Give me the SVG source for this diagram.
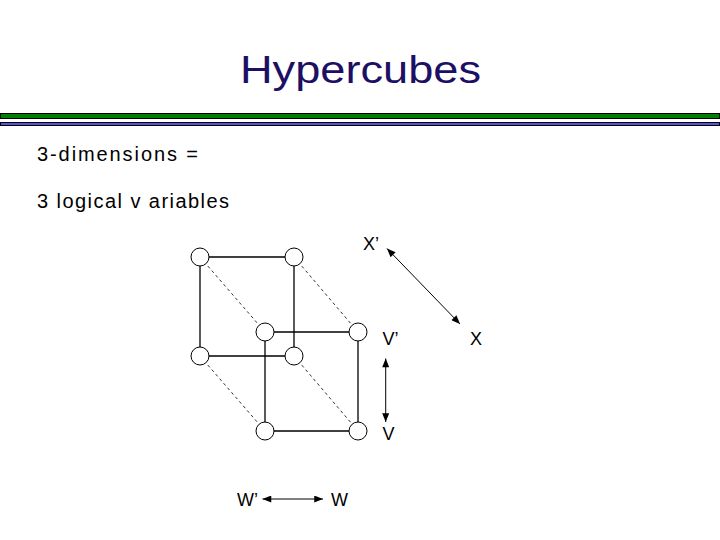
<svg xmlns="http://www.w3.org/2000/svg" width="720" height="540" viewBox="0 0 720 540">
<style>
.t{font-family:"Liberation Sans",Arial,sans-serif;font-size:18px;fill:#000}
.b{font-family:"Liberation Sans",Arial,sans-serif;font-size:20px;fill:#000}
.title{font-family:"Liberation Sans",Arial,sans-serif;font-size:38px;fill:#1d0f63}
.node{fill:#fff;stroke:#000;stroke-width:1}
.edge{stroke:#000;stroke-width:1.3;fill:none}
.dash{stroke:#000;stroke-width:0.8;stroke-dasharray:3,3;fill:none}
.arr{stroke:#000;stroke-width:1;fill:none;marker-start:url(#ah);marker-end:url(#ah)}
</style>
<defs>
<marker id="ah" viewBox="0 0 10 8" refX="10" refY="4" markerWidth="10" markerHeight="7" markerUnits="userSpaceOnUse" orient="auto-start-reverse">
<path d="M0,0 L10,4 L0,8 z" fill="#000"/>
</marker>
</defs>
<rect width="720" height="540" fill="#fff"/>
<text class="title" x="240" y="83" textLength="241" lengthAdjust="spacingAndGlyphs">Hypercubes</text>
<rect x="0.5" y="113.5" width="719" height="5" fill="#008000" stroke="#000" stroke-width="1"/>
<rect x="0.5" y="122.5" width="719" height="3" fill="#5b4fdc" stroke="#000" stroke-width="1"/>
<text class="b" x="37" y="160.5" textLength="161">3-dimensions =</text>
<text class="b" x="37" y="208" textLength="192">3 logical v ariables</text>
<g id="connectors">
<line class="edge" x1="200" y1="257" x2="294" y2="257"/>
<line class="edge" x1="200" y1="257" x2="200" y2="356"/>
<line class="edge" x1="294" y1="257" x2="294" y2="356"/>
<line class="edge" x1="200" y1="356" x2="294" y2="356"/>
<line class="edge" x1="265" y1="332" x2="358" y2="332"/>
<line class="edge" x1="265" y1="332" x2="265" y2="431"/>
<line class="edge" x1="358" y1="332" x2="358" y2="431"/>
<line class="edge" x1="265" y1="431" x2="358" y2="431"/>
<line class="dash" x1="200" y1="257" x2="265" y2="332"/>
<line class="dash" x1="294" y1="257" x2="358" y2="332"/>
<line class="dash" x1="200" y1="356" x2="265" y2="431"/>
<line class="dash" x1="294" y1="356" x2="358" y2="431"/>
<line class="arr" x1="387" y1="248.5" x2="460" y2="324"/>
<line class="arr" x1="385.7" y1="358.5" x2="385.7" y2="422"/>
<line class="arr" x1="262.5" y1="499" x2="323" y2="499"/>
</g>
<g id="n1"><circle class="node" cx="200" cy="257" r="9"/></g>
<g id="n2"><circle class="node" cx="294" cy="257" r="9"/></g>
<g id="n3"><circle class="node" cx="200" cy="356" r="9"/></g>
<g id="n4"><circle class="node" cx="294" cy="356" r="9"/></g>
<g id="n5"><circle class="node" cx="265" cy="332" r="9"/></g>
<g id="n6"><circle class="node" cx="358" cy="332" r="9"/></g>
<g id="n7"><circle class="node" cx="265" cy="431" r="9"/></g>
<g id="n8"><circle class="node" cx="358" cy="431" r="9"/></g>
<text class="t" x="363" y="250">X’</text>
<text class="t" x="382.5" y="345">V’</text>
<text class="t" x="470" y="345">X</text>
<text class="t" x="382.5" y="440">V</text>
<text class="t" x="237" y="506">W’</text>
<text class="t" x="331" y="506">W</text>
</svg>
